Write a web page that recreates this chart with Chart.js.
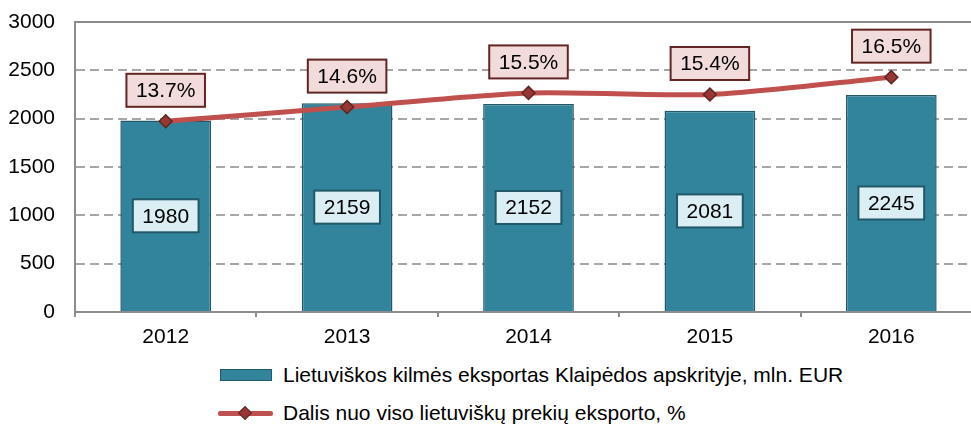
<!DOCTYPE html>
<html>
<head>
<meta charset="utf-8">
<script src="https://cdn.jsdelivr.net/npm/chart.js@4.4.1/dist/chart.umd.min.js"></script>
<style>
  html, body { margin: 0; padding: 0; background: #fff; overflow: hidden; }
  #wrap { position: relative; width: 990px; height: 345px; }
  #legend { position: absolute; left: 218px; top: 356px; font: 21px "Liberation Sans", Arial, sans-serif; color: #000; }
  .row { display: flex; align-items: center; height: 38px; white-space: nowrap; }
  .sym { position: relative; width: 55px; height: 14px; margin-right: 10px; }
  .sym.bar span { position: absolute; left: 2px; top: 1px; width: 50px; height: 10px; border: 1px solid #215968; }
  .sym.line span.l { position: absolute; left: 0; top: 5px; width: 55px; height: 5px; border-radius: 2px; }
  .sym.line span.d { position: absolute; left: 22px; top: 2px; width: 8px; height: 8px; transform: rotate(45deg); border: 1.5px solid #632523; }
</style>
</head>
<body>
<div id="wrap"><canvas id="chart"></canvas></div>
<div id="legend"></div>
<script>
const years = ['2012', '2013', '2014', '2015', '2016'];
const exportValues = [1980, 2159, 2152, 2081, 2245];
const sharePercent = [13.7, 14.6, 15.5, 15.4, 16.5];
const yTicks = [0, 500, 1000, 1500, 2000, 2500, 3000];
const barLabel = 'Lietuviškos kilmės eksportas Klaipėdos apskrityje, mln. EUR';
const lineLabel = 'Dalis nuo viso lietuviškų prekių eksporto, %';

const barColor = '#31849b';
const barBorder = '#215968';
const lineColor = '#c0504d';
const markerColor = '#953735';
const markerBorder = '#632523';
const axisColor = '#8c8c8c';
const gridColor = '#a6a6a6';
const font = '"Liberation Sans", Arial, sans-serif';

function drawBox(ctx, x, y, text, fill, stroke) {
  const w = ctx.measureText(text).width + 19;
  const h = 33;
  ctx.fillStyle = fill;
  ctx.fillRect(x - w / 2, y - h / 2, w, h);
  ctx.lineWidth = 2;
  ctx.strokeStyle = stroke;
  ctx.strokeRect(x - w / 2, y - h / 2, w, h);
  ctx.fillStyle = '#000';
  ctx.fillText(text, x, y + 1);
}

const valueBoxes = {
  id: 'valueBoxes',
  afterDatasetsDraw(chart) {
    const ctx = chart.ctx;
    ctx.save();
    ctx.font = '21px ' + font;
    ctx.textAlign = 'center';
    ctx.textBaseline = 'middle';
    chart.getDatasetMeta(1).data.forEach((bar, i) => {
      drawBox(ctx, bar.x, (bar.y + bar.base) / 2, String(exportValues[i]), '#dbeef4', barBorder);
    });
    chart.getDatasetMeta(0).data.forEach((pt, i) => {
      drawBox(ctx, pt.x, pt.y - 31, sharePercent[i].toFixed(1) + '%', '#f2dcdb', markerBorder);
    });
    ctx.restore();
  },
};

// solid plot-area top edge
const topEdge = {
  id: 'topEdge',
  beforeDatasetsDraw(chart) {
    const { ctx, chartArea } = chart;
    ctx.save();
    ctx.strokeStyle = axisColor;
    ctx.lineWidth = 2;
    ctx.beginPath();
    ctx.moveTo(chartArea.left, chartArea.top);
    ctx.lineTo(chartArea.right, chartArea.top);
    ctx.stroke();
    ctx.restore();
  },
};

new Chart(document.getElementById('chart'), {
  data: {
    labels: years,
    datasets: [
      {
        type: 'line',
        label: lineLabel,
        data: sharePercent,
        yAxisID: 'y1',
        order: 1,
        borderColor: lineColor,
        borderWidth: 5,
        tension: 0.25,
        pointStyle: 'rectRot',
        pointRadius: 6.5,
        pointBackgroundColor: markerColor,
        pointBorderColor: markerBorder,
        pointBorderWidth: 1.5,
      },
      {
        type: 'bar',
        label: barLabel,
        data: exportValues,
        yAxisID: 'y',
        order: 2,
        backgroundColor: barColor,
        borderColor: barBorder,
        borderWidth: 1.5,
        barPercentage: 0.5,
        categoryPercentage: 1,
      },
    ],
  },
  options: {
    responsive: true,
    maintainAspectRatio: false,
    animation: false,
    layout: { padding: { top: 22, right: 8, left: 0, bottom: 0 } },
    plugins: {
      legend: { display: false },
      tooltip: { enabled: false },
    },
    scales: {
      x: {
        grid: { display: true, drawOnChartArea: false, drawTicks: true, tickLength: 5, color: axisColor, lineWidth: 2, offset: true },
        border: { color: axisColor, width: 2 },
        ticks: { color: '#000', font: { size: 21, family: font }, padding: 8 },
        afterFit(scale) { scale.height = 33; },
      },
      y: {
        min: 0,
        max: 3000,
        afterBuildTicks(scale) { scale.ticks = yTicks.map(v => ({ value: v })); },
        grid: { color: gridColor, lineWidth: 2, drawTicks: false },
        border: { color: axisColor, width: 2, dash: [9, 5] },
        ticks: { color: '#000', font: { size: 21, family: font }, padding: 20, callback: v => String(v) },
        afterFit(scale) {
          scale.width = 75;
          scale.paddingTop = 0;
          scale.paddingBottom = 0;
        },
      },
      y1: {
        display: false,
        min: 1.6,
        max: 20,
      },
    },
  },
  plugins: [topEdge, valueBoxes],
});

document.getElementById('legend').innerHTML =
  '<div class="row"><div class="sym bar"><span style="background:' + barColor + '"></span></div>' + barLabel + '</div>' +
  '<div class="row"><div class="sym line"><span class="l" style="background:' + lineColor + '"></span>' +
  '<span class="d" style="background:' + markerColor + '"></span></div>' + lineLabel + '</div>';
</script>
</body>
</html>
